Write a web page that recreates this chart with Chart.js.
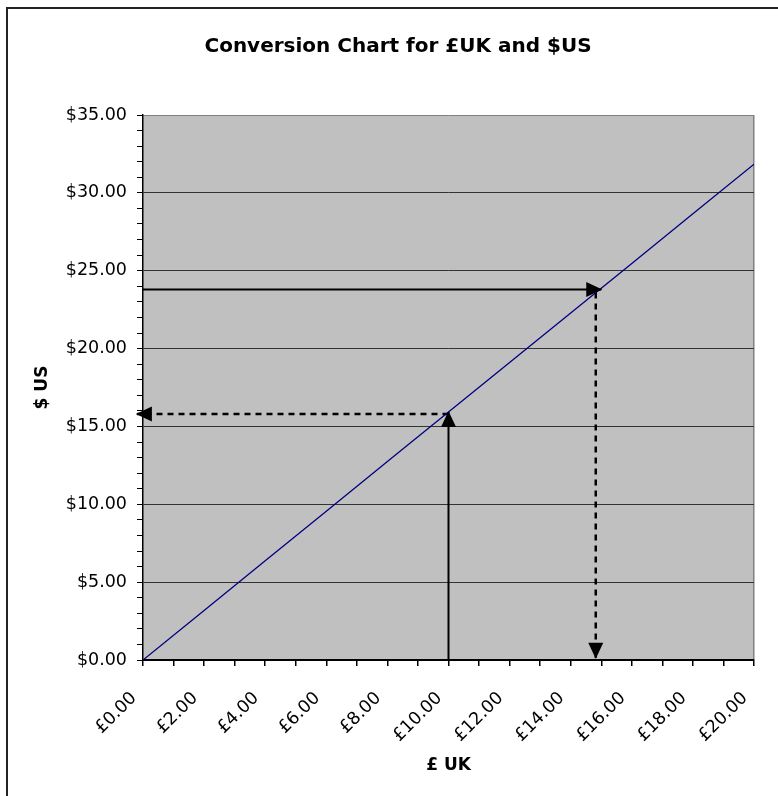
<!DOCTYPE html>
<html>
<head>
<meta charset="utf-8">
<script src="https://cdn.jsdelivr.net/npm/chart.js@4.4.1/dist/chart.umd.min.js"></script>
<style>
  html, body { margin: 0; padding: 0; background: #fff; }
  #wrap { width: 778px; height: 796px; }
  canvas { display: block; }
</style>
</head>
<body>
<div id="wrap"><canvas id="chart" width="778" height="796"></canvas></div>
<script>
// Sterling amounts and their dollar equivalents along the conversion line
const pounds  = [0, 2, 4, 6, 8, 10, 12, 14, 16, 18, 20];
const dollars = [0, 3.18, 6.37, 9.55, 12.74, 15.92, 19.10, 22.29, 25.47, 28.66, 31.84];

// Labelled ticks on each axis
const poundTicks  = [0, 2, 4, 6, 8, 10, 12, 14, 16, 18, 20];
const poundLabels = ['£0.00', '£2.00', '£4.00', '£6.00', '£8.00', '£10.00',
                     '£12.00', '£14.00', '£16.00', '£18.00', '£20.00'];
const dollarTicks  = [0, 5, 10, 15, 20, 25, 30, 35];
const dollarLabels = ['$0.00', '$5.00', '$10.00', '$15.00', '$20.00', '$25.00', '$30.00', '$35.00'];

const upPounds    = [10, 10];
const upDollars   = [0, 15.92];
const leftPounds  = [10, -0.2];
const leftDollars = [15.8, 15.8];

const rightPounds  = [0, 15.0];
const rightDollars = [23.8, 23.8];
const downPounds   = [14.82, 14.82];
const downDollars  = [23.6, 0.15];

const FONT = 'DejaVu Sans';
const pairs = (xs, ys) => xs.map((x, i) => ({ x: x, y: ys[i] }));

// Grey plot area and the outer frame
const frame = {
  id: 'frame',
  beforeDraw(chart) {
    const { ctx, chartArea: a } = chart;
    ctx.save();
    ctx.fillStyle = '#ffffff';
    ctx.fillRect(0, 0, chart.width, chart.height);
    ctx.fillStyle = '#c0c0c0';
    ctx.fillRect(a.left, a.top, a.right - a.left, a.bottom - a.top);
    ctx.strokeStyle = '#222222';
    ctx.lineWidth = 2;
    ctx.beginPath();
    ctx.moveTo(7, chart.height + 2);
    ctx.lineTo(7, 8);
    ctx.lineTo(chart.width + 2, 8);
    ctx.stroke();
    ctx.restore();
  }
};

// Filled triangular heads at the last point of each arrow dataset
const arrowHeads = {
  id: 'arrowHeads',
  afterDatasetsDraw(chart) {
    const ctx = chart.ctx;
    chart.data.datasets.forEach((ds, i) => {
      if (!ds.arrow) return;
      const pts = chart.getDatasetMeta(i).data;
      const tip = pts[pts.length - 1];
      const prev = pts[pts.length - 2];
      const ang = Math.atan2(tip.y - prev.y, tip.x - prev.x);
      ctx.save();
      ctx.translate(tip.x, tip.y);
      ctx.rotate(ang);
      ctx.beginPath();
      ctx.moveTo(1, 0);
      ctx.lineTo(-15, -7.5);
      ctx.lineTo(-15, 7.5);
      ctx.closePath();
      ctx.fillStyle = '#000000';
      ctx.fill();
      ctx.restore();
    });
  }
};

const arrowStyle = { borderColor: '#000000', pointRadius: 0, clip: false, arrow: true, tension: 0 };

new Chart(document.getElementById('chart'), {
  type: 'line',
  data: {
    datasets: [
      { data: pairs(pounds, dollars), borderColor: '#000080', borderWidth: 1.3, pointRadius: 0, tension: 0 },
      Object.assign({ data: pairs(upPounds, upDollars), borderWidth: 2 }, arrowStyle),
      Object.assign({ data: pairs(leftPounds, leftDollars), borderWidth: 2.5, borderDash: [6, 5] }, arrowStyle),
      Object.assign({ data: pairs(rightPounds, rightDollars), borderWidth: 2 }, arrowStyle),
      Object.assign({ data: pairs(downPounds, downDollars), borderWidth: 2.5, borderDash: [6, 5] }, arrowStyle)
    ]
  },
  options: {
    responsive: false,
    animation: false,
    events: [],
    layout: { padding: { left: 42, right: 24, top: 0, bottom: 0 } },
    plugins: {
      legend: { display: false },
      tooltip: { enabled: false },
      title: {
        display: true,
        text: 'Conversion Chart for £UK and $US',
        color: '#000000',
        font: { family: FONT, size: 20, weight: 'bold', lineHeight: 1.2 },
        padding: { top: 35, bottom: 56 }
      }
    },
    scales: {
      x: {
        type: 'linear',
        min: 0,
        max: 20,
        afterFit(scale) {
          scale.height = 136;
          scale.paddingLeft = 0;
          scale.paddingRight = 0;
        },
        ticks: {
          stepSize: 1,
          autoSkip: false,
          minRotation: 45,
          maxRotation: 45,
          padding: 22,
          labelOffset: -9,
          color: '#000000',
          font: { family: FONT, size: 17.5 },
          callback: (v) => { const k = poundTicks.indexOf(v); return k >= 0 ? poundLabels[k] : ''; }
        },
        grid: {
          color: (c) => (c.tick && c.tick.value === 20 ? '#808080' : 'rgba(0,0,0,0)'),
          tickColor: '#000000',
          tickLength: 6,
          lineWidth: 1.5
        },
        border: { color: '#000000', width: 2 },
        title: {
          display: true,
          text: '£ UK',
          color: '#000000',
          font: { family: FONT, size: 17, weight: 'bold', lineHeight: 1.2 },
          padding: { top: 0, bottom: 20 }
        }
      },
      y: {
        type: 'linear',
        min: 0,
        max: 35,
        afterFit(scale) { scale.width = 101; },
        ticks: {
          stepSize: 1,
          autoSkip: false,
          padding: 10,
          color: '#000000',
          font: { family: FONT, size: 17.5 },
          callback: (v) => { const k = dollarTicks.indexOf(v); return k >= 0 ? dollarLabels[k] : ''; }
        },
        grid: {
          color: (c) => {
            const v = c.tick ? c.tick.value : -1;
            if (v === 35) return '#808080';
            return v % 5 === 0 ? '#333333' : 'rgba(0,0,0,0)';
          },
          tickColor: '#000000',
          tickLength: 6,
          lineWidth: 1
        },
        border: { color: '#000000', width: 1.5 },
        title: {
          display: true,
          text: '$ US',
          color: '#000000',
          font: { family: FONT, size: 17, weight: 'bold', lineHeight: 1.2 },
          padding: { top: -10, bottom: 0 }
        }
      }
    }
  },
  plugins: [frame, arrowHeads]
});
</script>
</body>
</html>
